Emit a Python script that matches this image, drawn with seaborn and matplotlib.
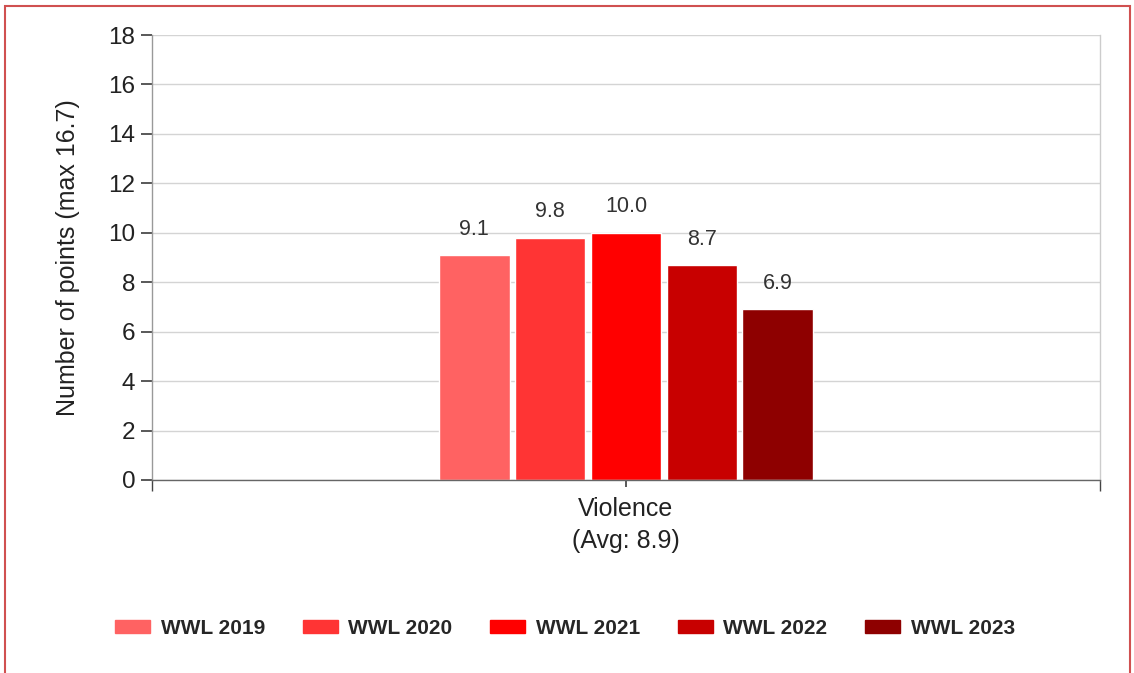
import matplotlib
matplotlib.use("Agg")
import matplotlib.pyplot as plt
import matplotlib.patches as mpatches
import seaborn as sns
import pandas as pd

# values
category = "Violence\n(Avg: 8.9)"
years = ["WWL 2019", "WWL 2020", "WWL 2021", "WWL 2022", "WWL 2023"]
points = [9.1, 9.8, 10.0, 8.7, 6.9]
colors = ["#ff6262", "#ff3434", "#ff0000", "#c80000", "#8e0000"]
yticks = [0, 2, 4, 6, 8, 10, 12, 14, 16, 18]

df = pd.DataFrame({"category": [category] * len(years), "year": years, "points": points})

sns.set_theme(style="white")
plt.rcParams["font.family"] = ["Liberation Sans", "DejaVu Sans"]

fig = plt.figure(figsize=(11.34, 6.73), dpi=100)
ax = fig.add_axes([152 / 1134, 1 - 480 / 673, (1100 - 152) / 1134, (480 - 35) / 673])

sns.barplot(data=df, x="category", y="points", hue="year", palette=colors,
            width=0.40, gap=0.07, saturation=1, legend=False, ax=ax)

for c in ax.containers:
    ax.bar_label(c, fmt="%.1f", padding=11, fontsize=15.5, color="#333333")

ax.set_xlim(-0.5, 0.5)
ax.set_ylim(0, 18)
ax.set_yticks(yticks)
ax.set_yticklabels([str(t) for t in yticks], fontsize=17.5, color="#222222")
ax.yaxis.grid(True, color="#d4d4d4", linewidth=1)
ax.set_axisbelow(True)
ax.set_xlabel("")
ax.set_ylabel("Number of points (max 16.7)", fontsize=18, color="#222222", labelpad=20)
ax.tick_params(axis="x", labelsize=18, labelcolor="#222222", length=5, color="#444444", direction="out", bottom=True, pad=7)
ax.tick_params(axis="y", length=8, color="#444444", direction="out", left=True, pad=4)
ax.set_xticks([-0.5, 0.5], minor=True)
ax.tick_params(axis="x", which="minor", length=8, color="#444444", bottom=True)
for t in ax.get_xticklabels():
    t.set_linespacing(1.45)

ax.spines["top"].set_visible(False)
ax.spines["right"].set_color("#cccccc")
ax.spines["left"].set_color("#999999")
ax.spines["bottom"].set_color("#666666")
for s in ax.spines.values():
    s.set_linewidth(1)

handles = [mpatches.Patch(color=c, label=y) for c, y in zip(colors, years)]
fig.legend(handles=handles, loc="center", bbox_to_anchor=(565 / 1134, 1 - 628 / 673), ncol=5,
           frameon=False, prop={"size": 15, "weight": "bold"}, handlelength=1.7, handleheight=0.6,
           handletextpad=0.5, columnspacing=1.8)

# red frame round the picture
fig.add_artist(mpatches.Rectangle((5 / 1134, -0.05), 1125 / 1134, 1.05 - 6 / 673,
                                  transform=fig.transFigure, fill=False, edgecolor="#d05050", linewidth=1.5))

fig.savefig("out.png", dpi=100)
